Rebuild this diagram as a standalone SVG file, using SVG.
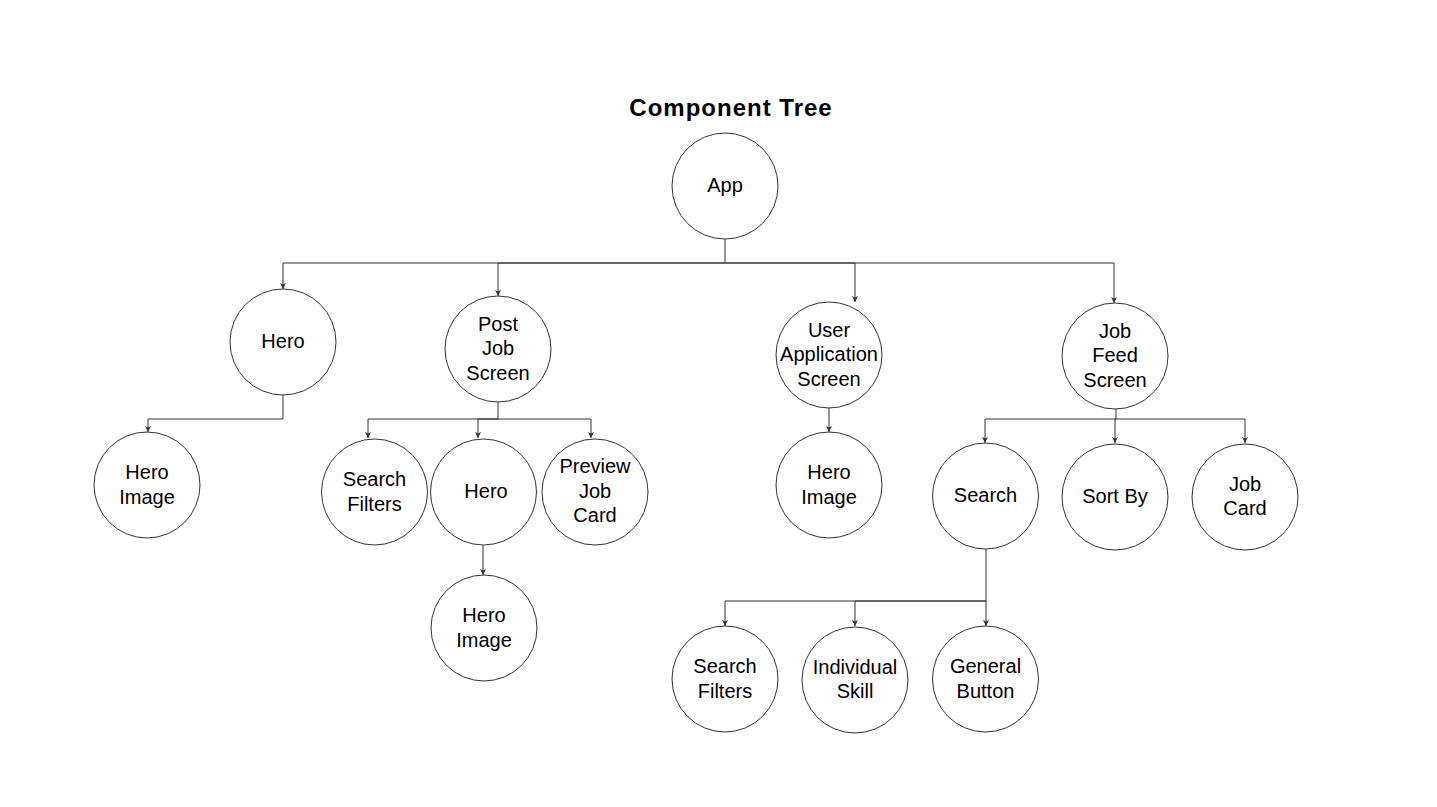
<svg xmlns="http://www.w3.org/2000/svg" width="1437" height="807" viewBox="0 0 1437 807">
<style>
  .node circle { fill: #ffffff; stroke: #333333; stroke-width: 1; }
  .node text { font-family: "Liberation Sans", Arial, sans-serif; font-size: 20px; fill: #000000; text-anchor: middle; }
  .title { font-family: "Liberation Sans", Arial, sans-serif; font-size: 24px; font-weight: bold; fill: #000000; text-anchor: middle; letter-spacing: 1px; }
  #connectors path { fill: none; stroke: #333333; stroke-width: 1; }
</style>
<defs>
  <marker id="arrow" markerUnits="userSpaceOnUse" viewBox="0 0 6 6" refX="6" refY="3" markerWidth="6" markerHeight="6" orient="auto">
    <path d="M0,0 L6,3 L0,6 L1.5,3 z" fill="#333333"/>
  </marker>
</defs>
<rect x="0" y="0" width="1437" height="807" fill="#ffffff"/>
<text class="title" x="731" y="116">Component Tree</text>

<g id="connectors">
  <path d="M725,239 V263 H283 V289" marker-end="url(#arrow)"/>
  <path d="M725,263 H498 V296" marker-end="url(#arrow)"/>
  <path d="M725,263 H855 V302" marker-end="url(#arrow)"/>
  <path d="M725,263 H1114 V303" marker-end="url(#arrow)"/>
  <path d="M283,395 V419 H148 V432" marker-end="url(#arrow)"/>
  <path d="M498,402 V419 H368 V438" marker-end="url(#arrow)"/>
  <path d="M498,419 H478 V438" marker-end="url(#arrow)"/>
  <path d="M498,419 H591 V438" marker-end="url(#arrow)"/>
  <path d="M483,545 V575" marker-end="url(#arrow)"/>
  <path d="M829,408 V432" marker-end="url(#arrow)"/>
  <path d="M1116,409 V419 H985 V443" marker-end="url(#arrow)"/>
  <path d="M1116,419 H1115 V443" marker-end="url(#arrow)"/>
  <path d="M1116,419 H1245 V443" marker-end="url(#arrow)"/>
  <path d="M986,549 V601 H725 V626" marker-end="url(#arrow)"/>
  <path d="M986,601 H855 V626" marker-end="url(#arrow)"/>
  <path d="M986,601 V626" marker-end="url(#arrow)"/>
</g>

<g id="node-app" class="node"><circle cx="725" cy="186" r="53"/><text x="725" y="191.5">App</text></g>
<g id="node-hero" class="node"><circle cx="283" cy="342" r="53"/><text x="283" y="347.5">Hero</text></g>
<g id="node-post-job-screen" class="node"><circle cx="498" cy="349" r="53"/><text x="498" y="330.5">Post</text><text x="498" y="355">Job</text><text x="498" y="379.5">Screen</text></g>
<g id="node-user-application-screen" class="node"><circle cx="829" cy="355" r="53"/><text x="829" y="336.5">User</text><text x="829" y="361">Application</text><text x="829" y="385.5">Screen</text></g>
<g id="node-job-feed-screen" class="node"><circle cx="1115" cy="356" r="53"/><text x="1115" y="337.5">Job</text><text x="1115" y="362">Feed</text><text x="1115" y="386.5">Screen</text></g>
<g id="node-hero-image-1" class="node"><circle cx="147" cy="485" r="53"/><text x="147" y="479">Hero</text><text x="147" y="503.5">Image</text></g>
<g id="node-search-filters-1" class="node"><circle cx="374.5" cy="492" r="53"/><text x="374.5" y="486">Search</text><text x="374.5" y="510.5">Filters</text></g>
<g id="node-hero-2" class="node"><circle cx="483.5" cy="492" r="53"/><text x="486" y="497.5">Hero</text></g>
<g id="node-preview-job-card" class="node"><circle cx="595" cy="492" r="53"/><text x="595" y="473">Preview</text><text x="595" y="497.5">Job</text><text x="595" y="522">Card</text></g>
<g id="node-hero-image-2" class="node"><circle cx="484" cy="628" r="53"/><text x="484" y="622">Hero</text><text x="484" y="646.5">Image</text></g>
<g id="node-hero-image-3" class="node"><circle cx="829" cy="485" r="53"/><text x="829" y="479">Hero</text><text x="829" y="503.5">Image</text></g>
<g id="node-search" class="node"><circle cx="985.5" cy="496" r="53"/><text x="985.5" y="502">Search</text></g>
<g id="node-sort-by" class="node"><circle cx="1115" cy="497" r="53"/><text x="1115" y="503">Sort By</text></g>
<g id="node-job-card" class="node"><circle cx="1245" cy="497" r="53"/><text x="1245" y="490.5">Job</text><text x="1245" y="515">Card</text></g>
<g id="node-search-filters-2" class="node"><circle cx="725" cy="679" r="53"/><text x="725" y="673">Search</text><text x="725" y="697.5">Filters</text></g>
<g id="node-individual-skill" class="node"><circle cx="855" cy="680" r="53"/><text x="855" y="673.5">Individual</text><text x="855" y="698">Skill</text></g>
<g id="node-general-button" class="node"><circle cx="985.5" cy="679" r="53"/><text x="985.5" y="673">General</text><text x="985.5" y="697.5">Button</text></g>
</svg>
